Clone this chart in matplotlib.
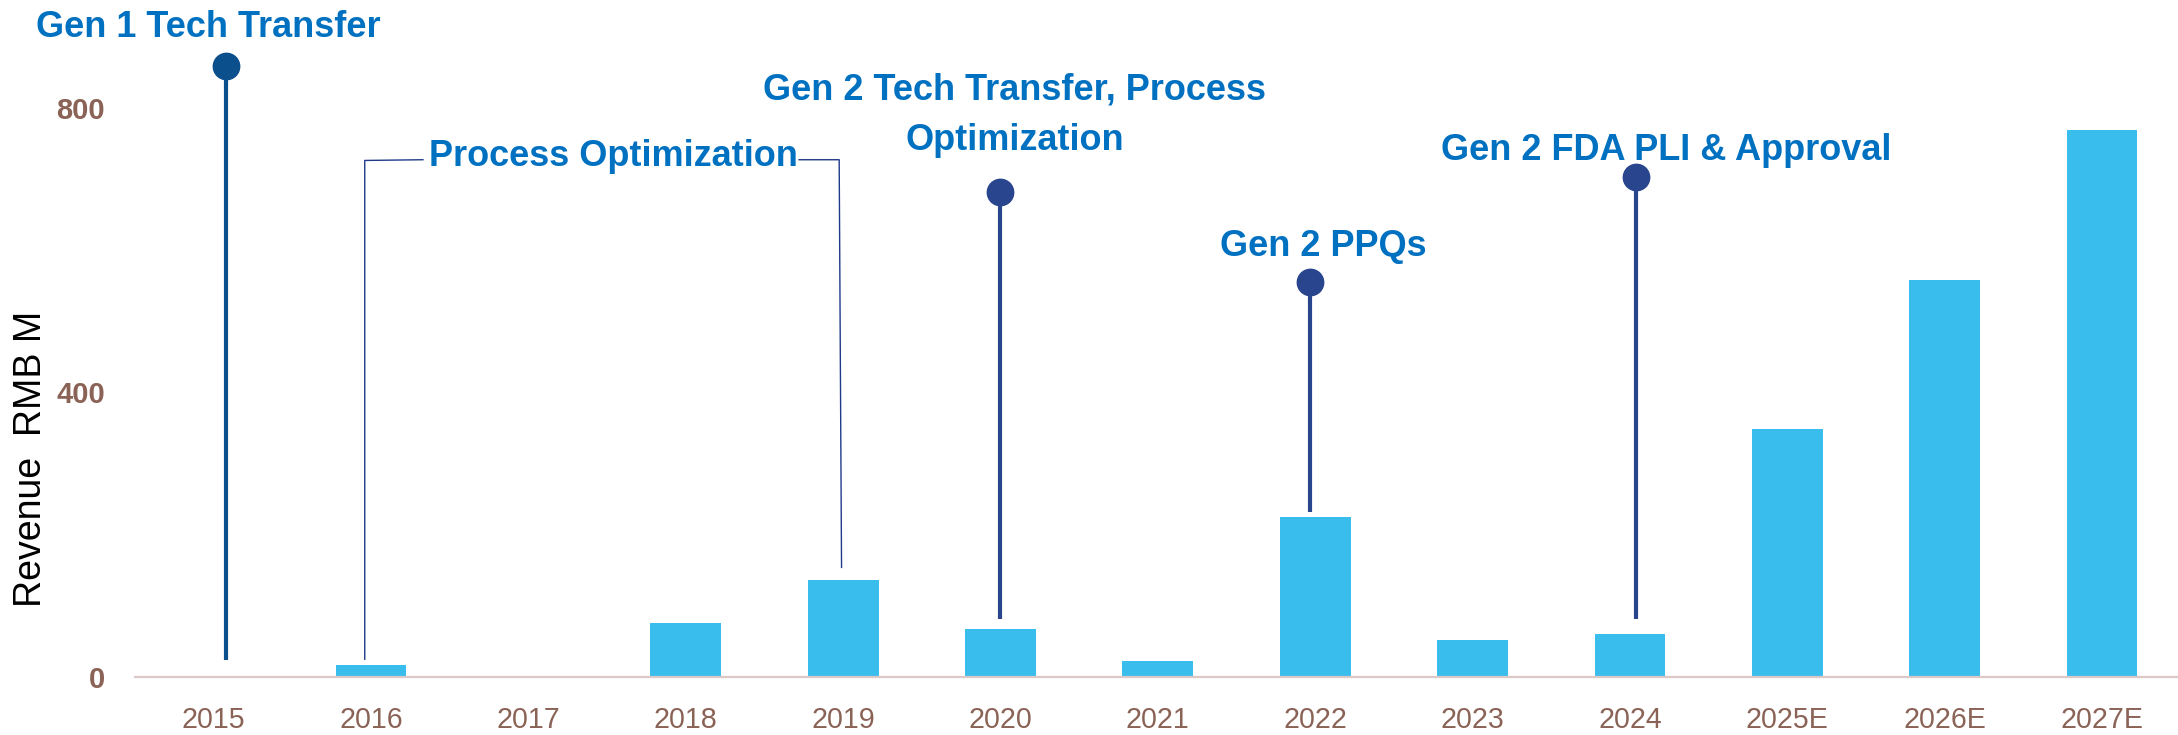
import matplotlib
matplotlib.use("Agg")
import matplotlib.pyplot as plt

# ---- data ----
years = ["2015", "2016", "2017", "2018", "2019", "2020", "2021",
         "2022", "2023", "2024", "2025E", "2026E", "2027E"]
revenue = [1, 17, 1, 76, 136, 67, 23, 225, 52, 60, 348, 558, 769]
yticks = [0, 400, 800]

# milestone lollipops (x in category units, y in RMB M)
stem_x = [0.08, 5.0, 6.97, 9.04]
stem_bottom = [24, 81, 232, 82]
stem_top = [859, 681, 555, 703]

# bracket for "Process Optimization"
bracket_left_x = [0.96, 0.96, 1.33]
bracket_left_y = [25, 726, 727]
bracket_right_x = [3.72, 3.975, 3.99]
bracket_right_y = [727, 727, 154]

labels = ["Gen 1 Tech Transfer", "Process Optimization",
          "Gen 2 Tech Transfer, Process\nOptimization", "Gen 2 PPQs",
          "Gen 2 FDA PLI & Approval"]
label_x = [-0.035, 2.54, 5.09, 7.05, 9.23]
label_y = [899, 718, 741, 592, 727]

FONT = ["Liberation Sans", "DejaVu Sans"]
BLUE_TXT = "#0070c0"
BAR = "#38bdec"
BROWN = "#8a6256"

fig = plt.figure(figsize=(21.78, 7.35), dpi=100)
ax = fig.add_axes([135 / 2178, 58 / 735, 1 - 135 / 2178, 677 / 735])
ax.set_xlim(-0.5, 12.483)
ax.set_ylim(0, 951.5)

x = list(range(len(years)))
ax.bar(x, revenue, width=0.45, color=BAR, zorder=2)

for i, (sx, b, t) in enumerate(zip(stem_x, stem_bottom, stem_top)):
    c = "#0b4f8c" if i == 0 else "#28458e"
    ax.plot([sx, sx], [b, t], color=c, lw=3.0, zorder=3, solid_capstyle="butt", clip_on=False)
    ax.plot([sx], [t], "o", ms=19, color=c, mec=c, zorder=4, clip_on=False)

ax.plot(bracket_left_x, bracket_left_y, color="#1f3a8a", lw=1.0, zorder=3, clip_on=False)
ax.plot(bracket_right_x, bracket_right_y, color="#1f3a8a", lw=1.0, zorder=3, clip_on=False)

for txt, lx, ly in zip(labels, label_x, label_y):
    ax.text(lx, ly, txt, ha="center", va="baseline", color=BLUE_TXT,
            fontsize=26, fontweight="bold", family=FONT, multialignment="center",
            linespacing=1.56, clip_on=False, zorder=5)

for s in ["top", "right", "left"]:
    ax.spines[s].set_visible(False)
ax.spines["bottom"].set_color("#dcc8c6")
ax.spines["bottom"].set_linewidth(1.6)

ax.set_xticks(x)
ax.set_xticklabels(years, family=FONT, fontsize=20.6, color=BROWN)
ax.set_yticks(yticks)
ax.set_yticklabels([str(v) for v in yticks], family=FONT, fontsize=21,
                   color=BROWN, fontweight="bold")
ax.tick_params(axis="x", length=0, pad=20.6)
ax.tick_params(axis="y", length=0, pad=21.6)

fig.text(31 / 2178, 1 - 459 / 735, "Revenue  RMB M", rotation=90, ha="center", va="center",
         fontsize=27, family=FONT, color="black")

fig.savefig("out.png", dpi=100)
